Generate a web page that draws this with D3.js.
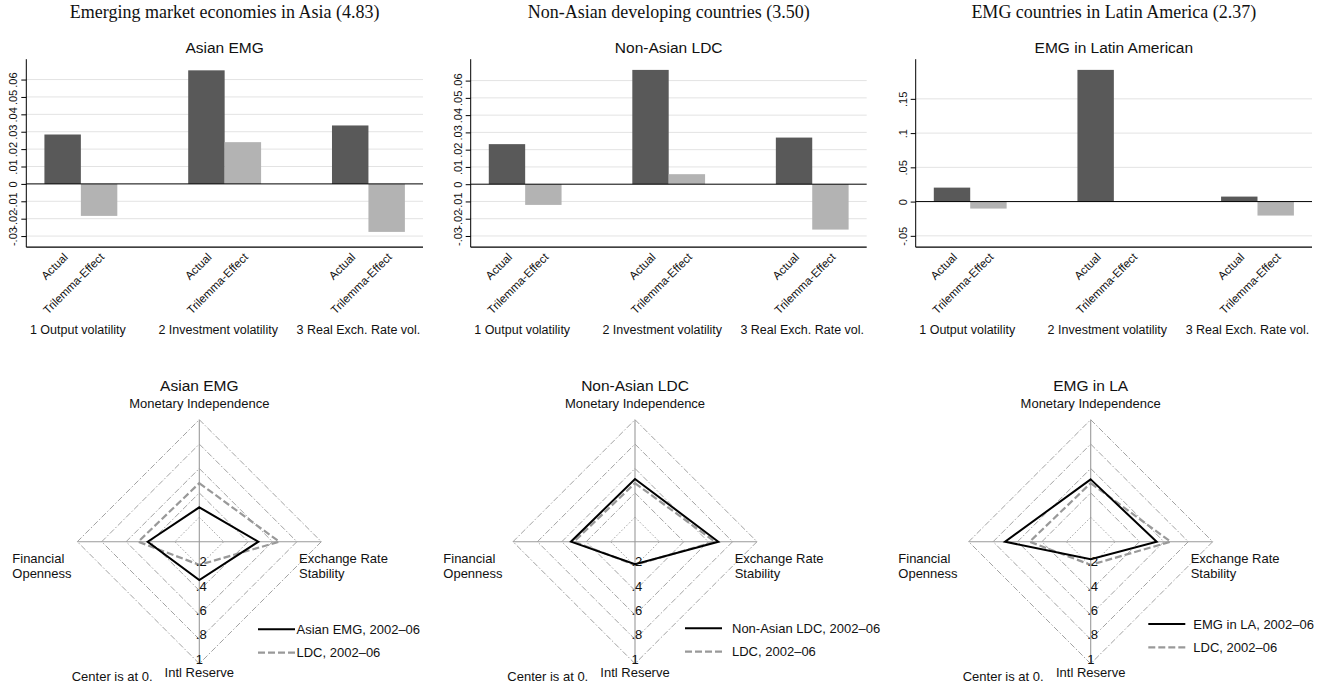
<!DOCTYPE html>
<html><head><meta charset="utf-8">
<script src="https://cdn.jsdelivr.net/npm/d3@7"></script>
<style>
body{margin:0;background:#fff;}
svg{display:block;}
text{font-family:"Liberation Sans",Arial,sans-serif;fill:#111;}
</style></head>
<body>
<svg id="chart" width="1322" height="684"></svg>
<script>
// ---------- DATA ----------
const groupLabels = ["1 Output volatility", "2 Investment volatility", "3 Real Exch. Rate vol."];
const barLabels = ["Actual", "Trilemma-Effect"];
const barTitles = ["Emerging market economies in Asia (4.83)", "Non-Asian developing countries (3.50)", "EMG countries in Latin America (2.37)"];
const barSubtitles = ["Asian EMG", "Non-Asian LDC", "EMG in Latin American"];

const asianActual = [0.0284, 0.0653, 0.0336];
const asianTrilemma = [-0.0184, 0.0240, -0.0276];
const nonAsianActual = [0.0232, 0.0662, 0.0270];
const nonAsianTrilemma = [-0.0120, 0.0058, -0.0263];
const latamActual = [0.0204, 0.1923, 0.0073];
const latamTrilemma = [-0.0102, 0.0008, -0.0204];

const asianYDomain = [-0.0364, 0.0717];
const nonAsianYDomain = [-0.0365, 0.0724];
const latamYDomain = [-0.0666, 0.2079];
const smallTicks = [-0.03, -0.02, -0.01, 0, 0.01, 0.02, 0.03, 0.04, 0.05, 0.06];
const latamTicks = [-0.05, 0, 0.05, 0.1, 0.15];

const radarAxes = ["Monetary Independence", "Exchange Rate Stability", "Intl Reserve", "Financial Openness"];
const radarTitles = ["Asian EMG", "Non-Asian LDC", "EMG in LA"];
const radarSeriesNames = ["Asian EMG, 2002\u201306", "Non-Asian LDC, 2002\u201306", "EMG in LA, 2002\u201306"];
const ldcName = "LDC, 2002\u201306";
const asianEMGRadar = [0.282, 0.484, 0.314, 0.423];
const nonAsianLDCRadar = [0.514, 0.683, 0.185, 0.525];
const emgLARadar = [0.511, 0.541, 0.144, 0.702];
const ldcRadar = [0.48, 0.655, 0.19, 0.50];
const radarTicks = [0.2, 0.4, 0.6, 0.8, 1];
const radarTickLabels = [".2", ".4", ".6", ".8", "1"];

// ---------- DRAW ----------
const svg = d3.select("#chart");
const DARK = "#595959", LIGHT = "#b3b3b3";
const fmt = v => { if (v === 0) return "0"; let s = String(+v.toFixed(3)); return s.replace("0.", "."); };

const barPanels = [
  {act: asianActual, tri: asianTrilemma, dom: asianYDomain, ticks: smallTicks, left: 26.3, right: 423},
  {act: nonAsianActual, tri: nonAsianTrilemma, dom: nonAsianYDomain, ticks: smallTicks, left: 470.7, right: 866.7},
  {act: latamActual, tri: latamTrilemma, dom: latamYDomain, ticks: latamTicks, left: 915.7, right: 1312}
];
const TOP = 59.2, BOT = 247.2;

barPanels.forEach((p, pi) => {
  const g = svg.append("g");
  const y = d3.scaleLinear().domain(p.dom).range([BOT, TOP]);
  const x0 = d3.scaleBand().domain(groupLabels).range([p.left, p.right]).paddingInner(0.493).paddingOuter(0.126);
  const x1 = d3.scaleBand().domain(barLabels).range([0, x0.bandwidth()]);
  const cx = (p.left + p.right) / 2;

  g.append("text").attr("x", cx).attr("y", 18).attr("text-anchor", "middle")
    .style("font-family", "'Liberation Serif','Times New Roman',serif").style("font-size", "18px").text(barTitles[pi]);
  g.append("text").attr("x", cx).attr("y", 53).attr("text-anchor", "middle")
    .style("font-size", "15.5px").text(barSubtitles[pi]);

  // gridlines
  g.selectAll(".grid").data(p.ticks.filter(t => t !== 0)).enter().append("line")
    .attr("x1", p.left).attr("x2", p.right).attr("y1", d => y(d)).attr("y2", d => y(d))
    .attr("stroke", "#e3e3e3").attr("stroke-width", 1);

  // bars
  const rows = [];
  groupLabels.forEach((gl, i) => {
    rows.push({g: gl, k: barLabels[0], v: p.act[i], c: DARK});
    rows.push({g: gl, k: barLabels[1], v: p.tri[i], c: LIGHT});
  });
  g.selectAll(".bar").data(rows).enter().append("rect")
    .attr("x", d => x0(d.g) + x1(d.k))
    .attr("width", x1.bandwidth())
    .attr("y", d => Math.min(y(d.v), y(0)))
    .attr("height", d => Math.max(Math.abs(y(d.v) - y(0)), 0.8))
    .attr("fill", d => d.c);

  // zero line
  g.append("line").attr("x1", p.left).attr("x2", p.right).attr("y1", y(0)).attr("y2", y(0))
    .attr("stroke", "#000").attr("stroke-width", 1);

  // y axis
  const ya = g.append("g").attr("transform", `translate(${p.left},0)`)
    .call(d3.axisLeft(y).tickValues(p.ticks).tickFormat(fmt).tickSize(5).tickSizeOuter(0));
  ya.select(".domain").attr("stroke", "#000").attr("d", `M0,${TOP}V${BOT}`);
  ya.selectAll(".tick line").attr("stroke", "#000");
  ya.selectAll(".tick text").attr("transform", "rotate(-90)").attr("x", 0).attr("y", -13)
    .attr("dy", "0.35em").attr("text-anchor", "middle").style("font-size", "11px")
    .style("font-family", "'Liberation Sans',Arial,sans-serif").attr("fill", "#111");

  // x axis line
  g.append("line").attr("x1", p.left).attr("x2", p.right).attr("y1", BOT).attr("y2", BOT)
    .attr("stroke", "#000").attr("stroke-width", 1.2);

  // rotated bar labels
  g.selectAll(".xl").data(rows).enter().append("text")
    .attr("transform", d => `translate(${x0(d.g) + x1(d.k) + x1.bandwidth() / 2 + 3},255) rotate(-45)`)
    .attr("text-anchor", "end").attr("dy", "0.35em").style("font-size", "11.5px").text(d => d.k);

  // group labels
  g.selectAll(".gl").data(groupLabels).enter().append("text")
    .attr("x", (d, i) => x0(d) + x0.bandwidth() / 2 - 3 - 3.5 * i).attr("y", 334)
    .attr("text-anchor", "middle").style("font-size", "12.5px").text(d => d);
});

// ---------- RADARS ----------
const radarPanels = [
  {own: asianEMGRadar, cx: 199.3, legX: 258, legGap: 1.5, legY: 629.3, foX: 12.3, erX: 299, ctrX: 71.7},
  {own: nonAsianLDCRadar, cx: 635, legX: 685, legGap: 10, legY: 628.3, foX: 443.3, erX: 734.7, ctrX: 507.3},
  {own: emgLARadar, cx: 1090.7, legX: 1148.3, legGap: 8, legY: 624, foX: 898.3, erX: 1190.7, ctrX: 962.7}
];
const CY = 541.7, R = 122;
const angles = [-Math.PI / 2, 0, Math.PI / 2, Math.PI]; // top, right, bottom, left

radarPanels.forEach((p, pi) => {
  const g = svg.append("g");
  const r = d3.scaleLinear().domain([0, 1]).range([0, R]);
  const pt = (v, i) => [p.cx + r(v) * Math.cos(angles[i]), CY + r(v) * Math.sin(angles[i])];
  const line = d3.line().curve(d3.curveLinearClosed);

  // rings
  radarTicks.forEach((t, ti) => {
    g.append("path").attr("d", line(angles.map((a, i) => pt(t, i))))
      .attr("fill", "none").attr("stroke", "#8a8a8a").attr("stroke-width", 0.8)
      .attr("stroke-dasharray", ti === 0 ? "1.5,2" : "6,2,1.5,2");
  });
  // axes
  g.append("line").attr("x1", p.cx - R).attr("x2", p.cx + R).attr("y1", CY).attr("y2", CY)
    .attr("stroke", "#9a9a9a").attr("stroke-width", 1.1);
  g.append("line").attr("x1", p.cx).attr("x2", p.cx).attr("y1", CY - R).attr("y2", CY + R)
    .attr("stroke", "#9a9a9a").attr("stroke-width", 1.1);

  // series
  g.append("path").attr("d", line(ldcRadar.map((v, i) => pt(v, i))))
    .attr("fill", "none").attr("stroke", "#999").attr("stroke-width", 2.2).attr("stroke-dasharray", "7,3");
  g.append("path").attr("d", line(p.own.map((v, i) => pt(v, i))))
    .attr("fill", "none").attr("stroke", "#000").attr("stroke-width", 2);

  // tick labels
  radarTicks.forEach((t, ti) => {
    g.append("text").attr("x", p.cx - 3.5).attr("y", CY + r(t)).style("font-size", "13px").text(radarTickLabels[ti]);
  });

  // labels
  g.append("text").attr("x", p.cx).attr("y", 390.7).attr("text-anchor", "middle").style("font-size", "15.5px").text(radarTitles[pi]);
  g.append("text").attr("x", p.cx).attr("y", 407.5).attr("text-anchor", "middle").style("font-size", "13px").text(radarAxes[0]);
  g.append("text").attr("x", p.foX).attr("y", 562.6).style("font-size", "13px").text("Financial");
  g.append("text").attr("x", p.foX).attr("y", 578.3).style("font-size", "13px").text("Openness");
  g.append("text").attr("x", p.erX).attr("y", 562.6).style("font-size", "13px").text("Exchange Rate");
  g.append("text").attr("x", p.erX).attr("y", 578.3).style("font-size", "13px").text("Stability");
  g.append("text").attr("x", p.cx).attr("y", 676.6).attr("text-anchor", "middle").style("font-size", "13px").text(radarAxes[2]);
  g.append("text").attr("x", p.ctrX).attr("y", 681).style("font-size", "13px").text("Center is at 0.");

  // legend
  const L = 37;
  g.append("line").attr("x1", p.legX).attr("x2", p.legX + L).attr("y1", p.legY).attr("y2", p.legY)
    .attr("stroke", "#000").attr("stroke-width", 2);
  g.append("text").attr("x", p.legX + L + p.legGap).attr("y", p.legY + 4.5).style("font-size", "13px").text(radarSeriesNames[pi]);
  g.append("line").attr("x1", p.legX).attr("x2", p.legX + L).attr("y1", p.legY + 23.4).attr("y2", p.legY + 23.4)
    .attr("stroke", "#999").attr("stroke-width", 2.2).attr("stroke-dasharray", "7,3");
  g.append("text").attr("x", p.legX + L + p.legGap).attr("y", p.legY + 23.4 + 4.5).style("font-size", "13px").text(ldcName);
});
</script>
</body></html>
